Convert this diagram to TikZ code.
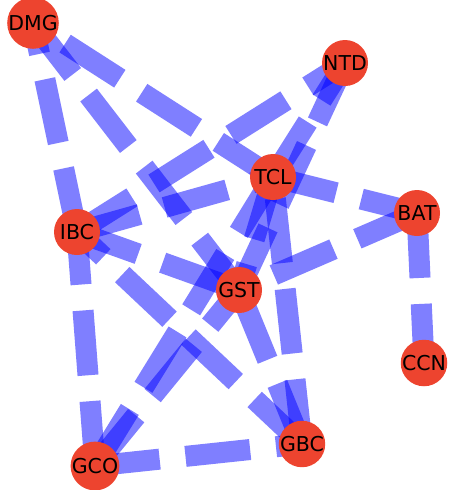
\documentclass[tikz,border=0pt]{standalone}
\usepackage{fontspec}
\setmainfont{DejaVu Sans}
\usetikzlibrary{backgrounds}
\definecolor{nodered}{RGB}{237,68,47}
\tikzset{
  vert/.style={circle, fill=nodered, minimum size=46pt, inner sep=0pt,
    font=\fontsize{20.5}{24}\selectfont, text=black},
  edgeline/.style={draw=blue, draw opacity=0.5, line width=21pt,
    dash pattern=on 65pt off 26pt, line cap=butt}
}
\begin{document}
\begin{tikzpicture}[x=1pt, y=-1pt]
\useasboundingbox (0,0) rectangle (448,490);
\node[vert] (DMG) at (33,23) {DMG};
\node[vert] (NTD) at (345,63) {NTD};
\node[vert] (TCL) at (273,177) {TCL};
\node[vert] (BAT) at (417,213) {BAT};
\node[vert] (IBC) at (77,232) {IBC};
\node[vert] (GST) at (239,290) {GST};
\node[vert] (CCN) at (424,363) {CCN};
\node[vert] (GBC) at (302,444) {GBC};
\node[vert] (GCO) at (95,466) {GCO};
\begin{scope}[on background layer]
\draw[edgeline] (IBC.center) -- (DMG.center);
\draw[edgeline] (TCL.center) -- (DMG.center);
\draw[edgeline] (DMG.center) -- (GST.center);
\draw[edgeline] (IBC.center) -- (NTD.center);
\draw[edgeline] (TCL.center) -- (NTD.center);
\draw[edgeline] (NTD.center) -- (GST.center);
\draw[edgeline] (TCL.center) -- (BAT.center);
\draw[edgeline] (TCL.center) -- (GST.center);
\draw[edgeline] (GBC.center) -- (TCL.center);
\draw[edgeline] (TCL.center) -- (GCO.center);
\draw[edgeline] (IBC.center) -- (TCL.center);
\draw[edgeline] (BAT.center) -- (GST.center);
\draw[edgeline] (BAT.center) -- (CCN.center);
\draw[edgeline] (IBC.center) -- (GST.center);
\draw[edgeline] (GBC.center) -- (IBC.center);
\draw[edgeline] (GCO.center) -- (IBC.center);
\draw[edgeline] (GCO.center) -- (GBC.center);
\draw[edgeline] (GCO.center) -- (GST.center);
\draw[edgeline] (GBC.center) -- (GST.center);
\end{scope}
\end{tikzpicture}
\end{document}
